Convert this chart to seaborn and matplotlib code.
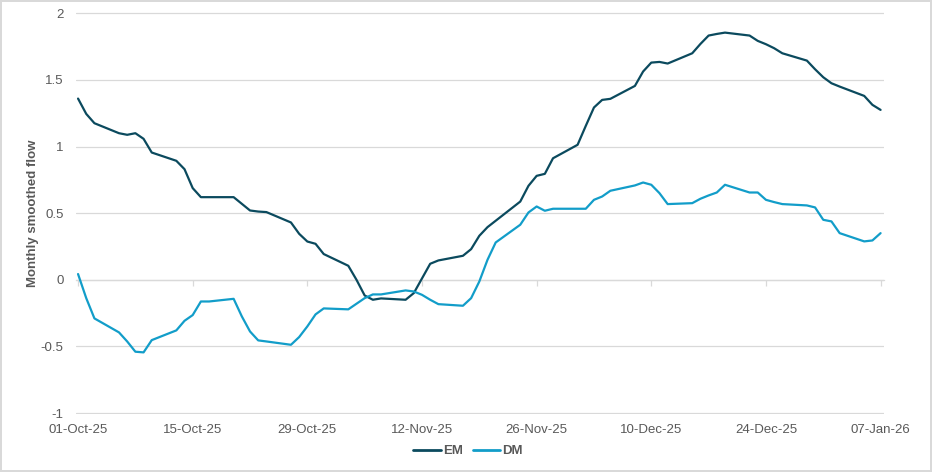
import matplotlib
matplotlib.use("Agg")
import matplotlib.pyplot as plt
import matplotlib.dates as mdates
import numpy as np
import pandas as pd
import seaborn as sns
from matplotlib.lines import Line2D

# ---- data (business days, 01-Oct-25 .. 07-Jan-26) ----
start_date = "2025-10-01"
end_date = "2026-01-07"

em_values = [
    1.36, 1.245, 1.175,
    1.10, 1.088, 1.10, 1.058, 0.955,
    0.893, 0.83, 0.688, 0.62, 0.62,
    0.62, 0.57, 0.52, 0.512, 0.508,
    0.43, 0.345, 0.287, 0.27, 0.193,
    0.105, 0.0, -0.118, -0.15, -0.14,
    -0.15, -0.1, 0.01, 0.12, 0.145,
    0.18, 0.23, 0.33, 0.395, 0.443,
    0.587, 0.705, 0.78, 0.795, 0.912,
    1.013, 1.155, 1.293, 1.35, 1.358,
    1.455, 1.563, 1.63, 1.635, 1.623,
    1.70, 1.77, 1.833, 1.845, 1.855,
    1.833, 1.793, 1.768, 1.738, 1.70,
    1.645, 1.58, 1.52, 1.475, 1.45,
    1.38, 1.313, 1.275,
]

dm_values = [
    0.043, -0.138, -0.29,
    -0.395, -0.463, -0.54, -0.545, -0.453,
    -0.38, -0.308, -0.265, -0.163, -0.163,
    -0.143, -0.275, -0.388, -0.455, -0.463,
    -0.488, -0.43, -0.35, -0.26, -0.215,
    -0.222, -0.18, -0.138, -0.11, -0.11,
    -0.08, -0.088, -0.113, -0.15, -0.183,
    -0.195, -0.138, -0.013, 0.15, 0.28,
    0.413, 0.505, 0.55, 0.518, 0.533,
    0.533, 0.533, 0.60, 0.625, 0.668,
    0.708, 0.73, 0.713, 0.65, 0.568,
    0.575, 0.608, 0.633, 0.655, 0.713,
    0.655, 0.655, 0.60, 0.583, 0.568,
    0.558, 0.543, 0.45, 0.438, 0.35,
    0.288, 0.295, 0.35,
]

series_names = ["EM", "DM"]
series_colors = ["#0b4a5e", "#129dc9"]
y_ticks = [-1, -0.5, 0, 0.5, 1, 1.5, 2]
y_label = "Monthly smoothed flow"

dates = pd.bdate_range(start_date, end_date)
df = pd.DataFrame({
    "date": list(dates) * 2,
    "value": em_values + dm_values,
    "series": ["EM"] * len(em_values) + ["DM"] * len(dm_values),
})

# ---- style ----
sns.set_theme(style="white")
plt.rcParams["font.family"] = ["Liberation Sans", "DejaVu Sans"]
text_color = "#595959"
grid_color = "#d9d9d9"

fig = plt.figure(figsize=(9.32, 4.72), dpi=100)
fig.patch.set_facecolor("white")
fig.patch.set_edgecolor(grid_color)
fig.patch.set_linewidth(1.5)

ax = fig.add_axes([76 / 932, 1 - 414 / 472, (884 - 76) / 932, (414 - 12.3) / 472])

sns.lineplot(data=df, x="date", y="value", hue="series", hue_order=series_names,
             palette=series_colors, linewidth=1.6, ax=ax, legend=False)

# axes limits
t0 = pd.Timestamp(start_date)
t1 = pd.Timestamp(end_date)
ax.set_xlim(t0 - pd.Timedelta(hours=6), t1 + pd.Timedelta(hours=10))
ax.set_ylim(-1.0075, 2.0075)

# y axis
ax.set_yticks(y_ticks)
ax.set_yticklabels([f"{v:g}" for v in y_ticks])
ax.yaxis.grid(True, color=grid_color, linewidth=0.9)
ax.xaxis.grid(False)
ax.tick_params(axis="y", length=0, pad=9, labelsize=9.5, labelcolor=text_color)
ax.set_ylabel(y_label, fontsize=9.5, fontweight="bold", color=text_color)
ax.yaxis.set_label_coords(-0.046, 0.5)

# x axis (labels at bottom)
xticks = pd.date_range(start_date, end_date, freq="14D")
ax.set_xticks(xticks)
ax.xaxis.set_major_formatter(mdates.DateFormatter("%d-%b-%y"))
ax.tick_params(axis="x", length=0, pad=7, labelsize=9.5, labelcolor=text_color)
ax.set_xlabel("")

for s in ax.spines.values():
    s.set_visible(False)

# axis line at zero with tick marks
sec = ax.secondary_xaxis(0, transform=ax.transData)
sec.set_xticks(xticks)
sec.tick_params(axis="x", direction="out", length=4, width=0.9, color=grid_color,
                labelbottom=False, labeltop=False)
sec.spines["bottom"].set_color(grid_color)
sec.spines["bottom"].set_linewidth(0.9)
for k in ["top", "left", "right"]:
    if k in sec.spines:
        sec.spines[k].set_visible(False)

# legend
handles = [Line2D([0], [0], color=c, linewidth=2) for c in series_colors]
leg = fig.legend(handles, series_names, loc="center", ncol=2, frameon=False,
                 bbox_to_anchor=(468 / 932, 1 - 451 / 472),
                 handlelength=2.1, handletextpad=0.15, columnspacing=0.75,
                 prop={"size": 9.5, "weight": "bold"})
for t in leg.get_texts():
    t.set_color(text_color)

fig.savefig("out.png", dpi=100, facecolor=fig.get_facecolor(), edgecolor=fig.get_edgecolor())
